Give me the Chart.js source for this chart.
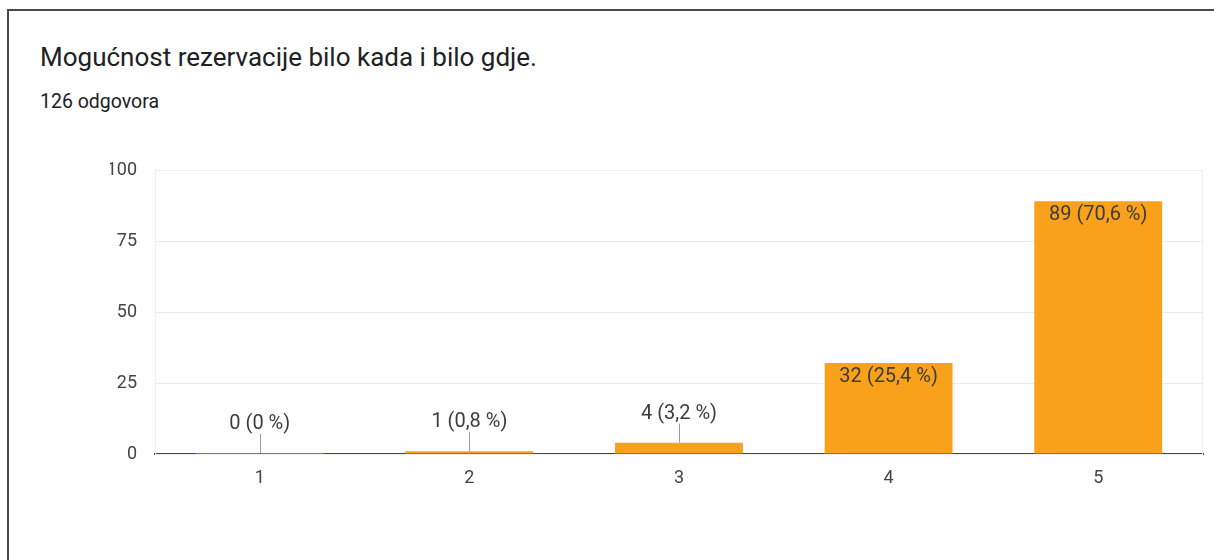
<!DOCTYPE html>
<html>
<head>
<meta charset="utf-8">
<script src="https://cdn.jsdelivr.net/npm/chart.js@4"></script>
<style>
  html, body { margin: 0; padding: 0; background: #fff; }
  body { width: 1214px; height: 560px; position: relative; overflow: hidden; }
  #card { position: absolute; left: 7px; top: 9px; right: -5px; bottom: -5px;
          border-top: 2px solid #4a4a4a; border-left: 2px solid #4a4a4a; }
  #title { position: absolute; left: 40px; top: 42px; font-family: Roboto, Arial, sans-serif;
           font-size: 26px; line-height: 30px; color: #202124; }
  #sub { position: absolute; left: 40px; top: 90px; font-family: Roboto, Arial, sans-serif;
         font-size: 19.5px; line-height: 24px; color: #202124; }
  #wrap { position: absolute; left: 0; top: 0; width: 1214px; height: 560px; }
</style>
</head>
<body>
<div id="card"></div>
<div id="title">Mogućnost rezervacije bilo kada i bilo gdje.</div>
<div id="sub">126 odgovora</div>
<div id="wrap"><canvas id="chart"></canvas></div>
<script>
// data
const categories = ['1', '2', '3', '4', '5'];
const counts = [0, 1, 4, 32, 89];
const totalAnswers = 126;
const yTicks = [0, 25, 50, 75, 100];

const pct = v => {
  const p = (v / totalAnswers * 100).toFixed(1).replace(/\.0$/, '');
  return `${v} (${p.replace('.', ',')} %)`;
};

// light frame round the plot area
const frame = {
  id: 'frame',
  beforeDatasetsDraw(chart) {
    const { ctx, chartArea: a } = chart;
    ctx.save();
    ctx.strokeStyle = '#eeeeee';
    ctx.lineWidth = 1;
    ctx.strokeRect(a.left + 0.5, a.top + 0.5, a.right - a.left - 1, a.bottom - a.top);
    ctx.restore();
  }
};

// value labels: inside tall bars, above short ones with a leader line
const barLabels = {
  id: 'barLabels',
  afterDatasetsDraw(chart) {
    const { ctx } = chart;
    const meta = chart.getDatasetMeta(0);
    const base = chart.scales.y.getPixelForValue(0);
    ctx.save();
    ctx.font = '20px Roboto, Arial, sans-serif';
    ctx.textAlign = 'center';
    ctx.textBaseline = 'middle';
    meta.data.forEach((bar, i) => {
      const top = Math.min(bar.y, base);
      const txt = pct(counts[i]);
      if (base - top > 30) {
        ctx.fillStyle = '#3c3c3c';
        ctx.fillText(txt, bar.x, top + 14);
      } else {
        ctx.strokeStyle = '#9e9e9e';
        ctx.lineWidth = 1;
        ctx.beginPath();
        ctx.moveTo(Math.round(bar.x) + 0.5, top - 19);
        ctx.lineTo(Math.round(bar.x) + 0.5, top);
        ctx.stroke();
        ctx.fillStyle = '#3c3c3c';
        ctx.fillText(txt, bar.x, top - 29);
      }
    });
    ctx.restore();
  }
};

new Chart(document.getElementById('chart'), {
  type: 'bar',
  data: {
    labels: categories,
    datasets: [{
      data: counts,
      backgroundColor: '#f9a11b',
      barPercentage: 0.61,
      categoryPercentage: 1,
      minBarLength: 1
    }]
  },
  options: {
    responsive: true,
    maintainAspectRatio: false,
    animation: false,
    layout: { padding: { top: 170, left: 110, right: 11, bottom: 66 } },
    plugins: { legend: { display: false }, tooltip: { enabled: false } },
    scales: {
      x: {
        grid: { display: false, drawTicks: false },
        border: { color: '#444444', width: 2 },
        ticks: { padding: 14, color: '#444444', font: { family: 'Roboto, Arial', size: 18 } },
        afterFit: s => { s.height = 40; }
      },
      y: {
        min: 0,
        max: 100,
        afterBuildTicks: s => { s.ticks = yTicks.map(v => ({ value: v })); },
        grid: { color: '#ebebeb', drawTicks: false },
        border: { display: false },
        ticks: { padding: 18, color: '#444444', font: { family: 'Roboto, Arial', size: 18 } },
        afterFit: s => { s.width = 45; }
      }
    }
  },
  plugins: [frame, barLabels]
});
</script>
</body>
</html>
